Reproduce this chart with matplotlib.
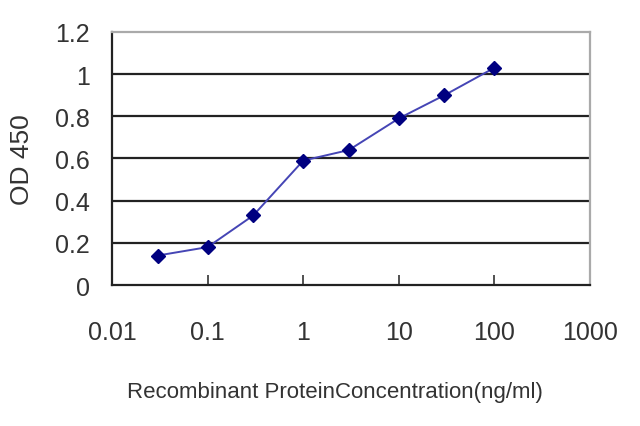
import matplotlib
matplotlib.use("Agg")
import matplotlib.pyplot as plt

# data
concentration = [0.03, 0.1, 0.3, 1, 3, 10, 30, 100]
od450 = [0.14, 0.18, 0.33, 0.59, 0.64, 0.79, 0.90, 1.03]

x_ticks = [0.01, 0.1, 1, 10, 100, 1000]
x_tick_labels = ["0.01", "0.1", "1", "10", "100", "1000"]
y_ticks = [0, 0.2, 0.4, 0.6, 0.8, 1.0, 1.2]
y_tick_labels = ["0", "0.2", "0.4", "0.6", "0.8", "1", "1.2"]

plt.rcParams['font.family'] = ['Liberation Sans', 'DejaVu Sans']

fig = plt.figure(figsize=(6.4, 4.27), dpi=100)
ax = fig.add_axes([0.175, 0.330, 0.747, 0.593])

# horizontal gridlines
for y in y_ticks[1:-1]:
    ax.axhline(y, color='#222222', lw=1.6, zorder=1)

ax.plot(concentration, od450, color='#4545b5', lw=1.4, zorder=2,
        marker='D', markersize=7, markerfacecolor='#000080',
        markeredgecolor='#000080')

ax.set_xscale('log')
ax.set_xlim(0.01, 1000)
ax.set_ylim(0, 1.2)
ax.set_xticks(x_ticks)
ax.set_xticklabels(x_tick_labels)
ax.minorticks_off()
ax.set_yticks(y_ticks)
ax.set_yticklabels(y_tick_labels)

ax.tick_params(axis='x', direction='in', length=7, width=1.2, pad=25,
               labelsize=18, colors='#333333')
ax.tick_params(axis='y', length=0, pad=16, labelsize=18, colors='#333333')

for side in ['left', 'bottom']:
    ax.spines[side].set_color('#222222')
    ax.spines[side].set_linewidth(1.6)
for side in ['top', 'right']:
    ax.spines[side].set_color('#aaaaaa')
    ax.spines[side].set_linewidth(1.6)

ax.set_xlabel('Recombinant ProteinConcentration(ng/ml)', fontsize=16,
              color='#333333')
ax.xaxis.set_label_coords(0.467, -0.378)
ax.set_ylabel('OD 450', fontsize=19, color='#333333')
ax.yaxis.set_label_coords(-0.163, 0.5)

fig.savefig('out.png', dpi=100, facecolor='white')
